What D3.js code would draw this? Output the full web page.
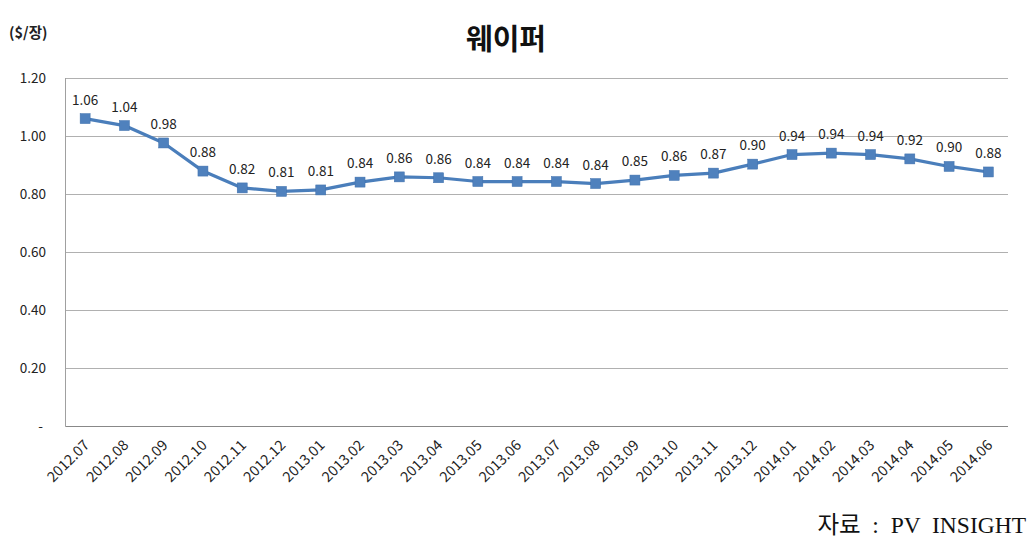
<!DOCTYPE html>
<html><head><meta charset="utf-8">
<script src="https://cdn.jsdelivr.net/npm/d3@7"></script>
<style>body{margin:0;background:#fff;} svg{display:block;}</style>
</head><body>
<svg id="c" width="1035" height="544"></svg>
<script>
const categories = ["2012.07","2012.08","2012.09","2012.10","2012.11","2012.12","2013.01","2013.02","2013.03","2013.04","2013.05","2013.06","2013.07","2013.08","2013.09","2013.10","2013.11","2013.12","2014.01","2014.02","2014.03","2014.04","2014.05","2014.06"];
const values = [1.06,1.036,0.976,0.879,0.821,0.809,0.814,0.841,0.859,0.856,0.843,0.843,0.843,0.836,0.848,0.864,0.872,0.903,0.936,0.941,0.936,0.921,0.895,0.876];
const yTicks = [0,0.2,0.4,0.6,0.8,1.0,1.2];
const title = "웨이퍼";
const unit = "($/장)";
const source = "자료  :  PV  INSIGHT";

(function(){
const svg = d3.select("#c");
const pLeft = 65.5, pRight = 1008, pTop = 78, pBottom = 426;
const x = d3.scaleBand().domain(categories).range([pLeft, pRight]);
const y = d3.scaleLinear().domain([0, 1.2]).range([pBottom, pTop]);
const font = "'Noto Sans CJK KR','Open Sans',sans-serif";

svg.append("g").selectAll("line").data(yTicks.filter(d=>d>0)).join("line")
  .attr("x1", pLeft).attr("x2", pRight)
  .attr("y1", d=>Math.round(y(d))+0.5).attr("y2", d=>Math.round(y(d))+0.5)
  .attr("stroke", "#b0b0b0").attr("stroke-width", 1);

svg.append("line").attr("x1", pLeft).attr("x2", pLeft).attr("y1", pTop).attr("y2", pBottom+0.5)
  .attr("stroke", "#a0a0a0");
svg.append("line").attr("x1", pLeft).attr("x2", pRight).attr("y1", pBottom+0.5).attr("y2", pBottom+0.5)
  .attr("stroke", "#888");

svg.append("g").selectAll("text").data(yTicks).join("text")
  .attr("x", d => d===0 ? 43 : 46).attr("y", d=>y(d)+4.5)
  .attr("text-anchor","end").attr("font-family", font).attr("font-size", 13.5).attr("fill","#222")
  .text(d => d===0 ? "-" : d.toFixed(2));

svg.append("g").selectAll("text").data(categories).join("text")
  .attr("transform", d => `translate(${x(d)+x.bandwidth()/2+5},${pBottom+20}) rotate(-45)`)
  .attr("text-anchor","end").attr("font-family", font).attr("font-size", 14.5).attr("fill","#222")
  .text(d=>d);

const cx = d => x(d) + x.bandwidth()/2;
svg.append("path").datum(values)
  .attr("d", d3.line().x((d,i)=>cx(categories[i])).y(d=>y(d)))
  .attr("fill","none").attr("stroke","#4a7ebb").attr("stroke-width",3.2).attr("stroke-linejoin","round");

svg.append("g").selectAll("rect").data(values).join("rect")
  .attr("x",(d,i)=>cx(categories[i])-5).attr("y",d=>y(d)-5)
  .attr("width",10).attr("height",10).attr("fill","#4f81bd").attr("stroke","#3f70ac").attr("stroke-width",0.5);

svg.append("g").selectAll("text").data(values).join("text")
  .attr("x",(d,i)=>cx(categories[i])).attr("y",d=>y(d)-14)
  .attr("text-anchor","middle").attr("font-family", font).attr("font-size", 13.5).attr("fill","#222")
  .text(d=>d.toFixed(2));

svg.append("text").attr("x",506).attr("y",50).attr("text-anchor","middle")
  .attr("font-family", font).attr("font-weight","bold").attr("font-size",29).attr("fill","#111").text(title);
svg.append("text").attr("x",9).attr("y",38)
  .attr("font-family", font).attr("font-weight","bold").attr("font-size",14.5).attr("fill","#222").text(unit);
svg.append("text").attr("x",1026).attr("y",533).attr("text-anchor","end")
  .attr("font-family","'Liberation Serif','Noto Sans CJK KR',serif").attr("font-size",23.5).attr("fill","#111")
  .style("white-space","pre").text(source);
})();
</script>
</body></html>
